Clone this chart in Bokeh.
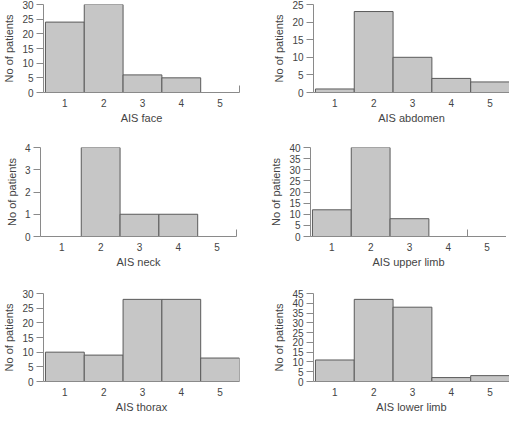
from bokeh.plotting import figure
from bokeh.layouts import column, row
from bokeh.models import FixedTicker, Range1d
from bokeh.embed import file_html
from bokeh.resources import INLINE

levels = [1, 2, 3, 4, 5]
face = [24, 30, 6, 5, 0]
abdomen = [1, 23, 10, 4, 3]
neck = [0, 4, 1, 1, 0]
upper_limb = [12, 40, 8, 0, 0]
thorax = [10, 9, 28, 28, 8]
lower_limb = [11, 42, 38, 2, 3]

titles = ["AIS face", "AIS abdomen", "AIS neck", "AIS upper limb", "AIS thorax", "AIS lower limb"]
series = [face, abdomen, neck, upper_limb, thorax, lower_limb]
y_max = [30, 25, 4, 40, 30, 45]
y_step = [5, 5, 1, 5, 5, 5]

FONT = "Liberation Sans"
TXT = "#444444"
AX = "#8a8a8a"
FILL = "#c6c6c6"
EDGE = "#5a5a5a"

row_geom = [(4, 88, 45), (10, 89, 46), (11, 88, 27)]


def make_panel(i):
    r, c = divmod(i, 2)
    top, fh, bottom = row_geom[r]
    counts = series[i]
    p = figure(frame_width=196, frame_height=fh,
               x_range=Range1d(0.45, 5.5), y_range=Range1d(0, y_max[i]),
               output_backend="svg", toolbar_location=None,
               min_border_left=40 if c == 0 else 57,
               min_border_right=17 if c == 0 else 0,
               min_border_top=top, min_border_bottom=bottom)
    p.outline_line_color = None
    p.background_fill_color = "white"
    p.xgrid.visible = False
    p.ygrid.visible = False

    lv = [l for l, v in zip(levels, counts) if v > 0]
    cv = [v for v in counts if v > 0]
    p.quad(left=[l - 0.5 for l in lv], right=[l + 0.5 for l in lv],
           bottom=0, top=cv, fill_color=FILL, line_color=EDGE, line_width=1)

    edges = [l + 0.5 for l, v in zip(levels, counts) if v == 0 and l > 1]
    xa = p.xaxis[0]
    xa.ticker = FixedTicker(ticks=levels, minor_ticks=edges)
    xa.major_tick_line_color = None
    xa.major_tick_out = 0
    xa.major_tick_in = 0
    xa.minor_tick_in = 7
    xa.minor_tick_out = 0
    xa.minor_tick_line_color = AX
    xa.axis_line_color = AX
    xa.major_label_text_font = FONT
    xa.major_label_text_font_size = "10px"
    xa.major_label_text_color = TXT
    xa.major_label_standoff = 6
    xa.axis_label = titles[i]
    xa.axis_label_text_font = FONT
    xa.axis_label_text_font_size = "11px"
    xa.axis_label_text_font_style = "normal"
    xa.axis_label_text_color = TXT
    xa.axis_label_standoff = 2

    ya = p.yaxis[0]
    ya.ticker = FixedTicker(ticks=list(range(0, y_max[i] + 1, y_step[i])), minor_ticks=[])
    ya.major_tick_out = 7
    ya.major_tick_in = 0
    ya.major_tick_line_color = AX
    ya.axis_line_color = AX
    ya.major_label_text_font = FONT
    ya.major_label_text_font_size = "10px"
    ya.major_label_text_color = TXT
    ya.major_label_standoff = 3
    ya.axis_label = "No of patients"
    ya.axis_label_text_font = FONT
    ya.axis_label_text_font_size = "11px"
    ya.axis_label_text_font_style = "normal"
    ya.axis_label_text_color = TXT
    ya.axis_label_standoff = 4
    return p


panels = [make_panel(i) for i in range(6)]
layout = column(row(panels[0], panels[1]), row(panels[2], panels[3]), row(panels[4], panels[5]))

open("out.html", "w").write(file_html(layout, INLINE))
